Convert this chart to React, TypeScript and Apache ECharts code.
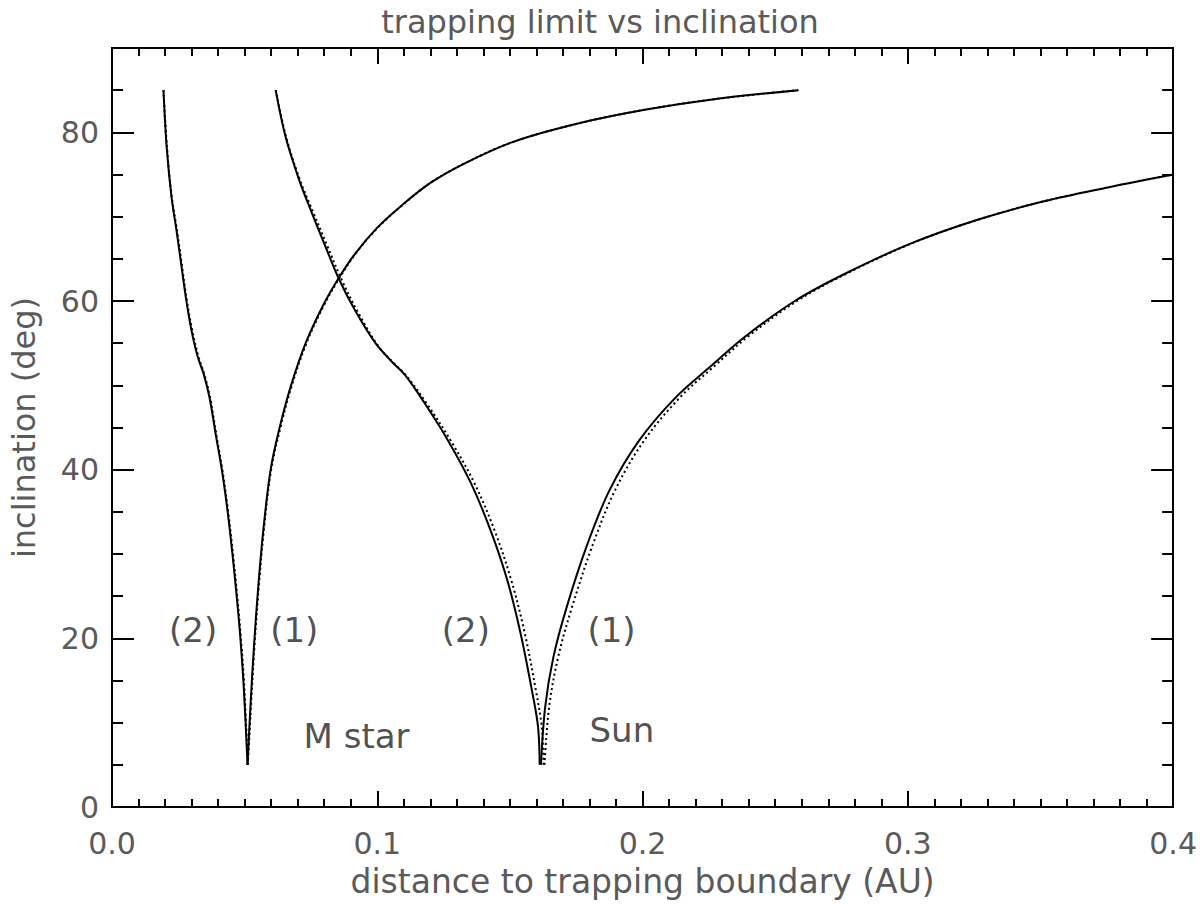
import React, { useEffect, useRef } from "react";
import * as echarts from "echarts";

const FONT = "DejaVu Sans";
const TITLE = "trapping limit vs inclination";
const X_NAME = "distance to trapping boundary (AU)";
const Y_NAME = "inclination (deg)";

// solid curves [distance AU, inclination deg]
const mStar2: number[][] = [
  [0.0194, 85], [0.0206, 78.3], [0.0224, 72.4], [0.0243, 68.4], [0.0262, 64.1],
  [0.028, 60.1], [0.0299, 56.6], [0.0322, 53.5], [0.0346, 51.3], [0.0368, 48.5],
  [0.0392, 44], [0.0414, 40], [0.0436, 35], [0.0454, 30], [0.047, 25],
  [0.0484, 20], [0.0497, 14], [0.0511, 5],
];
const mStar1: number[][] = [
  [0.0511, 5], [0.0522, 12], [0.0535, 19], [0.0551, 26], [0.0571, 33],
  [0.0598, 40], [0.0632, 45], [0.0675, 50], [0.073, 55], [0.0796, 59.5],
  [0.0854, 62.7], [0.0916, 65.6], [0.1, 68.7], [0.1091, 71.3], [0.12, 74.0],
  [0.1328, 76.3], [0.1515, 78.9], [0.1764, 81.1], [0.2013, 82.7], [0.2263, 83.9],
  [0.2587, 85],
];
const sun2: number[][] = [
  [0.0617, 85], [0.0654, 79.5], [0.0705, 74.4], [0.0754, 70.4], [0.0804, 66.5],
  [0.0854, 62.7], [0.0916, 58.9], [0.0991, 55.1], [0.1055, 52.8], [0.1105, 51.2],
  [0.1178, 47.9], [0.1266, 43.5], [0.1353, 38.4], [0.1427, 32.8], [0.149, 26.9],
  [0.154, 20.6], [0.1583, 13.8], [0.1606, 9.5], [0.1612, 5],
];
const sun1: number[][] = [
  [0.1617, 5], [0.1633, 11.9], [0.1664, 17.8], [0.1714, 23.7], [0.1789, 30.9],
  [0.1876, 37.6], [0.1988, 43.5], [0.2126, 48.6], [0.2262, 52.4], [0.2387, 55.8],
  [0.2574, 60.0], [0.2761, 63.2], [0.301, 66.8], [0.326, 69.6], [0.3509, 71.8],
  [0.3758, 73.5], [0.4, 75.0],
];

// dotted curves
const mStar2Dot: number[][] = [
  [0.0194, 85], [0.0207, 78.3], [0.0225, 72.4], [0.0245, 68.4], [0.0264, 64.1],
  [0.0282, 60.1], [0.0302, 56.6], [0.0325, 53.5], [0.0348, 51.3], [0.037, 48.5],
  [0.0394, 44], [0.0416, 40], [0.0438, 35], [0.0456, 30], [0.0472, 25],
  [0.0486, 20], [0.0499, 14], [0.0512, 5],
];
const mStar1Dot: number[][] = [
  [0.0512, 5], [0.0524, 12], [0.0537, 19], [0.0553, 26], [0.0573, 33],
  [0.06, 40], [0.0635, 45], [0.0678, 50], [0.0733, 55], [0.0799, 59.5],
  [0.0857, 62.7], [0.0918, 65.6], [0.1002, 68.7], [0.1092, 71.3], [0.12, 74.0],
  [0.1328, 76.3], [0.1515, 78.9], [0.1764, 81.1], [0.2013, 82.7], [0.2263, 83.9],
  [0.2587, 85],
];
const sun2Dot: number[][] = [
  [0.0617, 85], [0.0656, 79.5], [0.0708, 74.4], [0.076, 70.4], [0.0812, 66.5],
  [0.0866, 62.5], [0.093, 58.5], [0.1005, 54.6], [0.1063, 52.6], [0.1108, 51.2],
  [0.1185, 47.9], [0.1276, 43.5], [0.1366, 38.4], [0.1442, 32.8], [0.1505, 26.9],
  [0.1556, 20.6], [0.1598, 13.8], [0.162, 9.5], [0.1627, 5],
];
const sun1Dot: number[][] = [
  [0.163, 5], [0.1648, 11.9], [0.1682, 17.8], [0.1734, 23.7], [0.181, 30.9],
  [0.1897, 37.6], [0.2007, 43.5], [0.2142, 48.6], [0.2275, 52.4], [0.2398, 55.8],
  [0.2582, 60.0], [0.2766, 63.2], [0.3012, 66.8], [0.326, 69.6], [0.3509, 71.8],
  [0.3758, 73.5], [0.4, 75.0],
];

// annotation labels and positions in data units
const noteTexts = ["(2)", "(1)", "(2)", "(1)", "M star", "Sun"];
const noteX = [0.0306, 0.0687, 0.1334, 0.1883, 0.0922, 0.1922];
const noteY = [21, 21, 21, 21, 8.4, 9.1];

const X_TICK_LABEL = (v: number) => v.toFixed(1);

export default function App() {
  const ref = useRef<HTMLDivElement>(null);

  useEffect(() => {
    if (!ref.current) return;
    const chart = echarts.init(ref.current, undefined, { renderer: "svg" });
    const black = "#000";
    const labelColor = "#5a5a5a";

    const xBase = (pos: "bottom" | "top", labels: boolean) => ({
      type: "value",
      position: pos,
      min: 0,
      max: 0.4,
      interval: 0.1,
      axisLine: { show: true, onZero: false, lineStyle: { color: black, width: 2 } },
      axisTick: { show: true, inside: true, length: 16, lineStyle: { color: black, width: 2 } },
      minorTick: { show: true, splitNumber: 10, length: 8, lineStyle: { color: black, width: 2 } },
      splitLine: { show: false },
      minorSplitLine: { show: false },
      axisLabel: {
        show: labels,
        formatter: X_TICK_LABEL,
        fontSize: 30,
        fontFamily: FONT,
        color: labelColor,
        margin: 21,
      },
      ...(labels
        ? {
            name: X_NAME,
            nameLocation: "middle",
            nameGap: 58,
            nameTextStyle: { fontSize: 33, fontFamily: FONT, color: labelColor },
          }
        : {}),
    });

    const yBase = (pos: "left" | "right", major: boolean, labels: boolean) => ({
      type: "value",
      position: pos,
      min: 0,
      max: 90,
      interval: major ? 20 : 5,
      axisLine: { show: true, onZero: false, lineStyle: { color: black, width: 2 } },
      axisTick: { show: true, inside: true, length: major ? 22 : 11, lineStyle: { color: black, width: 2 } },
      splitLine: { show: false },
      axisLabel: {
        show: labels,
        showMaxLabel: false,
        fontSize: 30,
        fontFamily: FONT,
        color: labelColor,
        margin: 13,
      },
      ...(labels
        ? {
            name: Y_NAME,
            nameLocation: "middle",
            nameRotate: 90,
            nameGap: 72,
            nameTextStyle: { fontSize: 32, fontFamily: FONT, color: labelColor },
          }
        : {}),
    });

    const lineSeries = (data: number[][], dotted: boolean) => ({
      type: "line",
      xAxisIndex: 0,
      yAxisIndex: 0,
      data,
      showSymbol: false,
      symbol: "none",
      smooth: 0.35,
      z: dotted ? 2 : 3,
      lineStyle: dotted
        ? { color: black, width: 2, type: [2, 3] }
        : { color: black, width: 2, type: "solid" },
    });

    chart.setOption({
      animation: false,
      backgroundColor: "#fff",
      title: {
        text: TITLE,
        left: "center",
        top: 1,
        textStyle: { fontSize: 32, fontWeight: "normal", fontFamily: FONT, color: labelColor },
      },
      grid: { left: 108, right: 24, top: 48, bottom: 97, containLabel: false },
      xAxis: [xBase("bottom", true), xBase("top", false)],
      yAxis: [
        yBase("left", true, true),
        yBase("left", false, false),
        yBase("right", true, false),
        yBase("right", false, false),
      ],
      series: [
        lineSeries(mStar2Dot, true),
        lineSeries(mStar1Dot, true),
        lineSeries(sun2Dot, true),
        lineSeries(sun1Dot, true),
        lineSeries(mStar2, false),
        lineSeries(mStar1, false),
        lineSeries(sun2, false),
        lineSeries(sun1, false),
        {
          type: "scatter",
          xAxisIndex: 0,
          yAxisIndex: 0,
          symbolSize: 0,
          data: noteTexts.map((t, i) => ({ name: t, value: [noteX[i], noteY[i]] })),
          label: {
            show: true,
            position: "inside",
            formatter: (p: any) => p.name,
            fontSize: 34,
            fontFamily: FONT,
            color: "#222",
          },
          z: 4,
        },
      ],
    });

    return () => chart.dispose();
  }, []);

  return (
    <div
      ref={ref}
      style={{ position: "absolute", left: 0, top: 0, width: 1200, height: 904 }}
    />
  );
}
